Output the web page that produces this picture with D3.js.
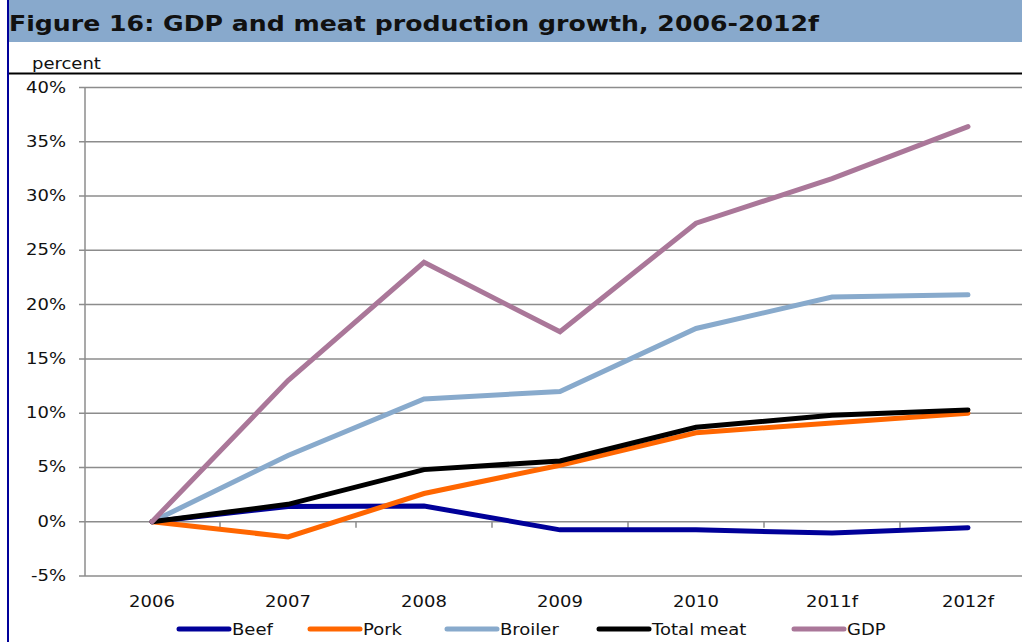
<html lang="en">
<head>
<meta charset="UTF-8">
<title>GDP and meat production growth</title>
<script src="https://d3js.org/d3.v7.min.js"></script>
<style>
  body { margin: 0; background: #fff; }
  text { font-family: "DejaVu Sans", Verdana, sans-serif; fill: #111; }
</style>
</head>
<body>
<svg width="1022" height="642"></svg>
<script>
// chart data (percent growth since 2006)
var years = ["2006", "2007", "2008", "2009", "2010", "2011f", "2012f"];
var beef = [0, 1.4, 1.45, -0.75, -0.75, -1.05, -0.55];
var pork = [0, -1.4, 2.6, 5.2, 8.2, 9.1, 10.0];
var broiler = [0, 6.1, 11.3, 12.0, 17.8, 20.7, 20.9];
var totalMeat = [0, 1.6, 4.8, 5.6, 8.7, 9.8, 10.3];
var gdp = [0, 13.0, 23.9, 17.5, 27.5, 31.6, 36.4];
var yTicks = [-5, 0, 5, 10, 15, 20, 25, 30, 35, 40];

var series = [
  { name: "Beef", values: beef, color: "#000099" },
  { name: "Pork", values: pork, color: "#FF6600" },
  { name: "Broiler", values: broiler, color: "#88AACC" },
  { name: "Total meat", values: totalMeat, color: "#000000" },
  { name: "GDP", values: gdp, color: "#AA7799" }
];

var svg = d3.select("svg");
var sx = 1.2; // text is drawn a little wide, like the source

// title band + frame
svg.append("rect").attr("x", 9).attr("y", 0).attr("width", 1013).attr("height", 42)
  .attr("fill", "#88A9CC");
svg.append("line").attr("x1", 8).attr("x2", 8).attr("y1", 0).attr("y2", 642)
  .attr("stroke", "#000099").attr("stroke-width", 2);
svg.append("text").attr("x", 9).attr("y", 31)
  .attr("font-size", 22).attr("font-weight", "bold")
  .attr("textLength", 810).attr("lengthAdjust", "spacingAndGlyphs")
  .text("Figure 16: GDP and meat production growth, 2006-2012f");
svg.append("line").attr("x1", 9).attr("x2", 1022).attr("y1", 73.5).attr("y2", 73.5)
  .attr("stroke", "#000").attr("stroke-width", 2);
svg.append("text").attr("transform", "translate(32,69) scale(" + sx + ",1)")
  .attr("font-size", 15).text("percent");

var x = d3.scaleBand().domain(years).range([84, 1036]);
var y = d3.scaleLinear().domain([-5, 40]).range([576, 87.5]);
var px = function (d, i) { return x(years[i]) + x.bandwidth() / 2; };

// gridlines
svg.append("g").selectAll("line").data(yTicks).enter().append("line")
  .attr("x1", 79).attr("x2", 1022)
  .attr("y1", function (d) { return y(d); }).attr("y2", function (d) { return y(d); })
  .attr("stroke", "#8c8c8c").attr("stroke-width", 1.5);

// y axis line and labels
svg.append("line").attr("x1", 85).attr("x2", 85).attr("y1", y(40)).attr("y2", y(-5))
  .attr("stroke", "#8c8c8c").attr("stroke-width", 1.5);
svg.append("g").selectAll("text").data(yTicks).enter().append("text")
  .attr("transform", function (d) { return "translate(66," + (y(d) + 5) + ") scale(" + sx + ",1)"; })
  .attr("text-anchor", "end").attr("font-size", 15)
  .text(function (d) { return d + "%"; });

// x axis tick marks between categories at 0%
svg.append("g").selectAll("line").data(years.slice(1)).enter().append("line")
  .attr("x1", function (d) { return x(d); }).attr("x2", function (d) { return x(d); })
  .attr("y1", y(0)).attr("y2", y(0) + 6)
  .attr("stroke", "#8c8c8c").attr("stroke-width", 1.5);
svg.append("g").selectAll("text").data(years).enter().append("text")
  .attr("transform", function (d) { return "translate(" + (x(d) + x.bandwidth() / 2) + ",607) scale(" + sx + ",1)"; })
  .attr("text-anchor", "middle").attr("font-size", 15)
  .text(function (d) { return d; });

// series lines
var line = d3.line().x(px).y(function (d) { return y(d); });
svg.append("g").selectAll("path").data(series).enter().append("path")
  .attr("d", function (s) { return line(s.values); })
  .attr("fill", "none").attr("stroke", function (s) { return s.color; })
  .attr("stroke-width", 5).attr("stroke-linecap", "round").attr("stroke-linejoin", "miter");

// legend
var legX = [177, 308, 445, 597, 792];
var leg = svg.append("g").selectAll("g").data(series).enter().append("g")
  .attr("transform", function (s, i) { return "translate(" + legX[i] + ",629)"; });
leg.append("line").attr("x1", 2).attr("x2", 52).attr("y1", 0).attr("y2", 0)
  .attr("stroke", function (s) { return s.color; }).attr("stroke-width", 5)
  .attr("stroke-linecap", "round");
leg.append("text").attr("transform", "translate(55,6) scale(" + sx + ",1)")
  .attr("font-size", 15).text(function (s) { return s.name; });
</script>
</body>
</html>
